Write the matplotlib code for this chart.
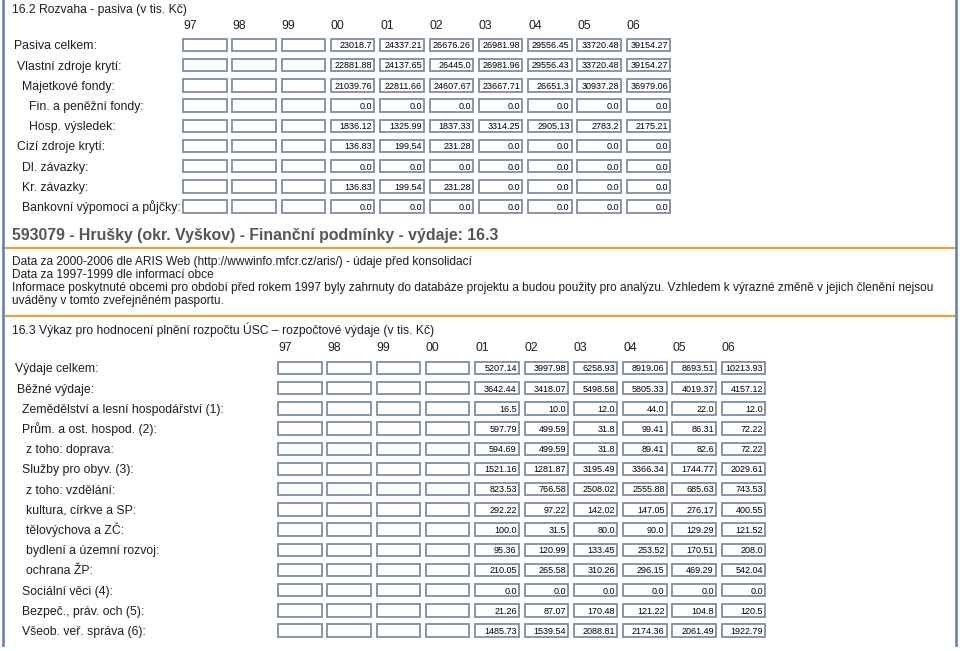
import matplotlib.pyplot as plt
from matplotlib.patches import Rectangle

plt.rcParams['font.family'] = ['Liberation Sans', 'DejaVu Sans']

years = ["97", "98", "99", "00", "01", "02", "03", "04", "05", "06"]

# 16.2 rozvaha - pasiva, hodnoty za roky 00-06
pasiva_labels = [
    "Pasiva celkem:",
    "Vlastní zdroje krytí:",
    "Majetkové fondy:",
    "Fin. a peněžní fondy:",
    "Hosp. výsledek:",
    "Cizí zdroje krytí:",
    "Dl. závazky:",
    "Kr. závazky:",
    "Bankovní výpomoci a půjčky:",
]
pasiva_values = [
    [23018.7, 24337.21, 26676.26, 26981.98, 29556.45, 33720.48, 39154.27],
    [22881.88, 24137.65, 26445.0, 26981.96, 29556.43, 33720.48, 39154.27],
    [21039.76, 22811.66, 24607.67, 23667.71, 26651.3, 30937.28, 36979.06],
    [0.0, 0.0, 0.0, 0.0, 0.0, 0.0, 0.0],
    [1836.12, 1325.99, 1837.33, 3314.25, 2905.13, 2783.2, 2175.21],
    [136.83, 199.54, 231.28, 0.0, 0.0, 0.0, 0.0],
    [0.0, 0.0, 0.0, 0.0, 0.0, 0.0, 0.0],
    [136.83, 199.54, 231.28, 0.0, 0.0, 0.0, 0.0],
    [0.0, 0.0, 0.0, 0.0, 0.0, 0.0, 0.0],
]

# 16.3 rozpoctove vydaje, hodnoty za roky 01-06
vydaje_labels = [
    "Výdaje celkem:",
    "Běžné výdaje:",
    "Zemědělství a lesní hospodářství (1):",
    "Prům. a ost. hospod. (2):",
    "z toho: doprava:",
    "Služby pro obyv. (3):",
    "z toho: vzdělání:",
    "kultura, církve a SP:",
    "tělovýchova a ZČ:",
    "bydlení a územní rozvoj:",
    "ochrana ŽP:",
    "Sociální věci (4):",
    "Bezpeč., práv. och (5):",
    "Všeob. veř. správa (6):",
]
vydaje_values = [
    [5207.14, 3997.98, 6258.93, 8919.06, 8693.51, 10213.93],
    [3642.44, 3418.07, 5498.58, 5805.33, 4019.37, 4157.12],
    [16.5, 10.0, 12.0, 44.0, 22.0, 12.0],
    [597.79, 499.59, 31.8, 99.41, 86.31, 72.22],
    [594.69, 499.59, 31.8, 89.41, 82.6, 72.22],
    [1521.16, 1281.87, 3195.49, 3366.34, 1744.77, 2029.61],
    [823.53, 766.58, 2508.02, 2555.88, 685.63, 743.53],
    [292.22, 97.22, 142.02, 147.05, 276.17, 400.55],
    [100.0, 31.5, 80.0, 90.0, 129.29, 121.52],
    [95.36, 120.99, 133.45, 253.52, 170.51, 208.0],
    [210.05, 265.58, 310.26, 296.15, 469.29, 542.04],
    [0.0, 0.0, 0.0, 0.0, 0.0, 0.0],
    [21.26, 87.07, 170.48, 121.22, 104.8, 120.5],
    [1485.73, 1539.54, 2088.81, 2174.36, 2061.49, 1922.79],
]

notes = [
    "Data za 2000-2006 dle ARIS Web (http://wwwinfo.mfcr.cz/aris/) - údaje před konsolidací",
    "Data za 1997-1999 dle informací obce",
    "Informace poskytnuté obcemi pro období před rokem 1997 byly zahrnuty do databáze projektu a budou použity pro analýzu. Vzhledem k výrazné změně v jejich členění nejsou",
    "uváděny v tomto zveřejněném pasportu.",
]

# odsazeni popisku (px)
pasiva_indent = [14, 17, 22, 29, 29, 17, 22, 22, 22]
vydaje_indent = [15, 17, 22, 22, 26, 22, 26, 26, 26, 26, 26, 22, 22, 22]

fig = plt.figure(figsize=(9.6, 6.51), dpi=100)
ax = fig.add_axes([0, 0, 1, 1])
ax.set_xlim(0, 960)
ax.set_ylim(651, 0)
ax.axis("off")

txt = "#1e1e1e"
box_ec = "#7f8ea2"
label_fs = 8.8
value_fs = 6.5


def table(title, title_y, x0, header_y, row0, labels, indent, values):
    ax.text(12, title_y + 4.3, title, fontsize=8.7, color=txt, va="baseline")
    step = 49.3
    for i, yr in enumerate(years):
        ax.text(x0 + step * i, header_y + 4.3, yr, fontsize=label_fs,
                color=txt, va="baseline")
    first = len(years) - len(values[0])
    for r, lab in enumerate(labels):
        y = row0 + 20.2 * r
        ax.text(indent[r], y + 4.4, lab, fontsize=label_fs, color=txt,
                va="baseline")
        for c in range(len(years)):
            bx = x0 + step * c
            ax.add_patch(Rectangle((bx, y - 6.2), 43.5, 12.4, fc="white",
                                   ec=box_ec, lw=1.3))
            if c >= first:
                v = values[r][c - first]
                ax.text(bx + 41.5, y + 3.3, str(v), fontsize=value_fs,
                        color="black", ha="right", va="baseline")


table("16.2 Rozvaha - pasiva (v tis. Kč)", 8.5, 183, 25, 45,
      pasiva_labels, pasiva_indent, pasiva_values)

ax.text(12, 235 + 5, "593079 - Hrušky (okr. Vyškov) - Finanční podmínky - výdaje: 16.3",
        fontsize=11.4, fontweight="bold", color="#555555", va="baseline")
ax.plot([3, 955], [248, 248], color="#e0a24c", lw=1.6)
for i, line in enumerate(notes):
    ax.text(12, 261 + 13 * i + 4, line, fontsize=8.6, color=txt,
            va="baseline")
ax.plot([3, 955], [316, 316], color="#e0a24c", lw=1.6)

table("16.3 Výkaz pro hodnocení plnění rozpočtu ÚSC – rozpočtové výdaje (v tis. Kč)",
      330, 278, 347, 368, vydaje_labels, vydaje_indent, vydaje_values)

# okraje stranky
ax.plot([2.5, 2.5], [0, 645], color="#6b87b5", lw=2)
ax.plot([955.5, 955.5], [0, 645], color="#6b87b5", lw=2)

fig.savefig("out.png", dpi=100)
